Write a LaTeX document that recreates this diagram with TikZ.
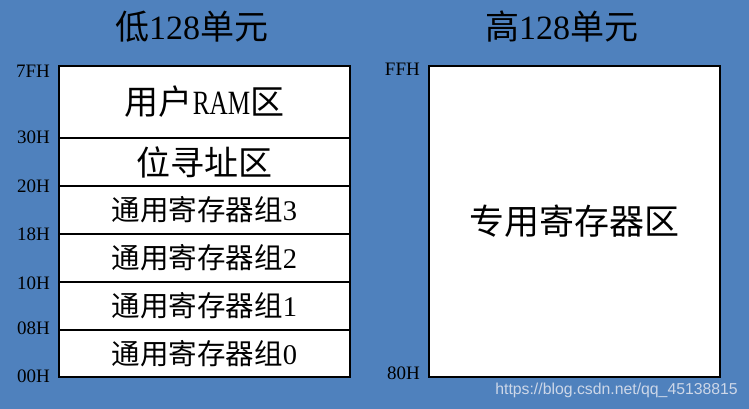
\documentclass[tikz,border=0pt]{standalone}
\usepackage{fontspec}
\setmainfont{Liberation Serif}
\setsansfont{Liberation Sans}
\newfontfamily\cjk{Noto Sans CJK SC}
\definecolor{bgblue}{RGB}{79,129,189}
\definecolor{wmark}{RGB}{205,215,232}
\tikzset{
  cellbox/.style={draw=black,line width=1.6pt,fill=white,minimum width=291pt,inner sep=0pt,outer sep=0pt},
  addr/.style={anchor=east,inner sep=0pt,font=\fontsize{19}{19}\selectfont,text=black},
  titletext/.style={inner sep=0pt,font=\fontsize{34}{34}\selectfont,text=black},
  bigtext/.style={font=\fontsize{34}{34}\selectfont},
  regtext/.style={font=\fontsize{28.5}{28.5}\selectfont}
}
\begin{document}
\begin{tikzpicture}[x=1pt,y=-1pt]
\fill[bgblue] (0,0) rectangle (749,409);
\useasboundingbox (0,0) rectangle (749,409);
% titles
\node[titletext] (tlow) at (191.5,27) {{\cjk 低}128{\cjk 单元}};
\node[titletext] (thigh) at (561.5,27) {{\cjk 高}128{\cjk 单元}};
% left cells
\node[cellbox,minimum height=72pt,bigtext] (c1) at (204.5,102) {{\cjk 用户}\scalebox{0.74}[1]{RAM}{\cjk 区}};
\node[cellbox,minimum height=48pt,bigtext] (c2) at (204.5,162) {\cjk 位寻址区};
\node[cellbox,minimum height=48pt,regtext] (c3) at (204.5,210) {{\cjk 通用寄存器组}3};
\node[cellbox,minimum height=48pt,regtext] (c4) at (204.5,258) {{\cjk 通用寄存器组}2};
\node[cellbox,minimum height=48pt,regtext] (c5) at (204.5,306) {{\cjk 通用寄存器组}1};
\node[cellbox,minimum height=47pt,regtext] (c6) at (204.5,353.5) {{\cjk 通用寄存器组}0};
% right cell
\node[cellbox,minimum height=311pt,font=\fontsize{35}{35}\selectfont] (r1) at (574.5,221.5) {\cjk 专用寄存器区};
% address labels
\node[addr] (a7f) at (50,71) {7FH};
\node[addr] (a30) at (50,137) {30H};
\node[addr] (a20) at (50,186) {20H};
\node[addr] (a18) at (50,234) {18H};
\node[addr] (a10) at (50,283) {10H};
\node[addr] (a08) at (50,328) {08H};
\node[addr] (a00) at (50,376) {00H};
\node[addr] (aff) at (420,69) {FFH};
\node[addr] (a80) at (420,373) {80H};
% watermark
\node[anchor=east,inner sep=0pt,text=wmark,font=\sffamily\fontsize{15.8}{15.8}\selectfont] (wm) at (738,390) {https://blog.csdn.net/qq\_45138815};
\end{tikzpicture}
\end{document}
